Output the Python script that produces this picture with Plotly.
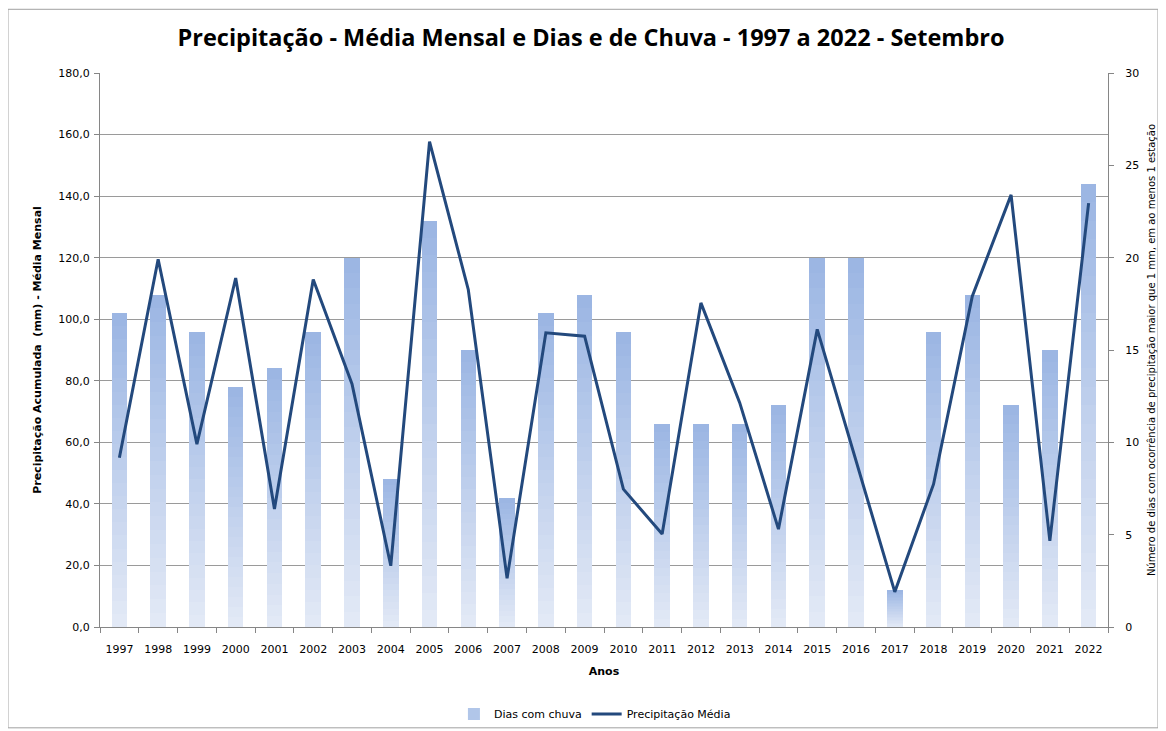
import plotly.graph_objects as go

anos = [str(y) for y in range(1997, 2023)]
dias_chuva = [17, 18, 16, 13, 14, 16, 20, 8, 22, 15, 7, 17, 18, 16, 11, 11, 11, 12, 20, 20, 2, 16, 18, 12, 15, 24]
precip_media = [55.0, 119.5, 59.4, 113.4, 38.3, 112.9, 79.0, 19.9, 157.7, 109.6, 15.8, 95.6, 94.5, 44.8,
                30.2, 105.3, 72.9, 31.8, 96.7, 54.0, 11.4, 46.4, 107.5, 140.4, 28.0, 137.7]

titulo = "Precipitação - Média Mensal e Dias e de Chuva - 1997 a 2022 - Setembro"
y_left_title = "Precipitação Acumulada  (mm) - Média Mensal"
y_right_title = "Número de dias com ocorrência de precipitação maior que 1 mm, em ao menos 1 estação"
x_title = "Anos"

FONT = "DejaVu Sans"
N_SEG = 24
c_bottom = (228, 234, 246)
c_top = (154, 181, 227)

fig = go.Figure()

for i in range(N_SEG):
    t = (i + 0.5) / N_SEG
    col = tuple(round(c_bottom[k] + (c_top[k] - c_bottom[k]) * t) for k in range(3))
    fig.add_trace(go.Bar(
        x=anos, y=[v / N_SEG for v in dias_chuva],
        name="Dias com chuva", legendgroup="dias",
        showlegend=(i == N_SEG - 8),
        marker=dict(color="rgb(%d,%d,%d)" % col, line=dict(width=0)),
        yaxis="y", hoverinfo="skip",
    ))

fig.add_trace(go.Scatter(
    x=anos, y=precip_media, name="Precipitação Média", mode="lines",
    line=dict(color="#23497D", width=3), yaxis="y2",
))

axis_col = "#868686"
fig.update_layout(
    width=1166, height=731,
    margin=dict(l=92, r=66, t=65, b=111),
    paper_bgcolor="white", plot_bgcolor="white",
    barmode="stack", bargap=0.6,
    separators=",.",
    font=dict(family=FONT, size=11, color="#000000"),
    title=dict(text="<b>" + titulo + "</b>", x=0.5, xanchor="center", y=1 - 30 / 731, yanchor="middle",
               font=dict(family="Open Sans", size=23.5, color="#000000")),
    xaxis=dict(type="category", tickson="boundaries", ticks="outside", ticklen=5, tickcolor=axis_col,
               showline=True, linecolor=axis_col, linewidth=1, showgrid=False, automargin=False,
               tickfont=dict(size=11), ticklabelstandoff=12,
               title=dict(text="<b>" + x_title + "</b>", font=dict(size=11), standoff=12)),
    yaxis=dict(side="right", range=[0, 30], dtick=5, ticks="outside", ticklen=5, tickcolor=axis_col,
               showline=True, linecolor=axis_col, showgrid=False, zeroline=False, automargin=False,
               tickfont=dict(size=11), ticklabelstandoff=9,
               title=dict(text=y_right_title, font=dict(size=10), standoff=9)),
    yaxis2=dict(side="left", overlaying="y", range=[0, 180], dtick=20, tickformat=".1f",
                ticks="outside", ticklen=5, tickcolor=axis_col, automargin=False,
                showline=True, linecolor=axis_col, showgrid=True, gridcolor="#9A9A9A", gridwidth=1,
                zeroline=False, tickfont=dict(size=11), ticklabelstandoff=2,
                title=dict(text="<b>" + y_left_title + "</b>", font=dict(size=11), standoff=14)),
    legend=dict(orientation="h", x=0.491, xanchor="center", y=-0.155, yanchor="middle",
                font=dict(size=11), traceorder="normal", bgcolor="rgba(0,0,0,0)"),
    showlegend=True,
    shapes=[dict(type="rect", xref="paper", yref="paper", x0=-0.0913, x1=1.0496, y0=-0.182, y1=1.115,
                 line=dict(color="#A0A0A0", width=1), layer="below")],
)

fig.write_html("out.html")
